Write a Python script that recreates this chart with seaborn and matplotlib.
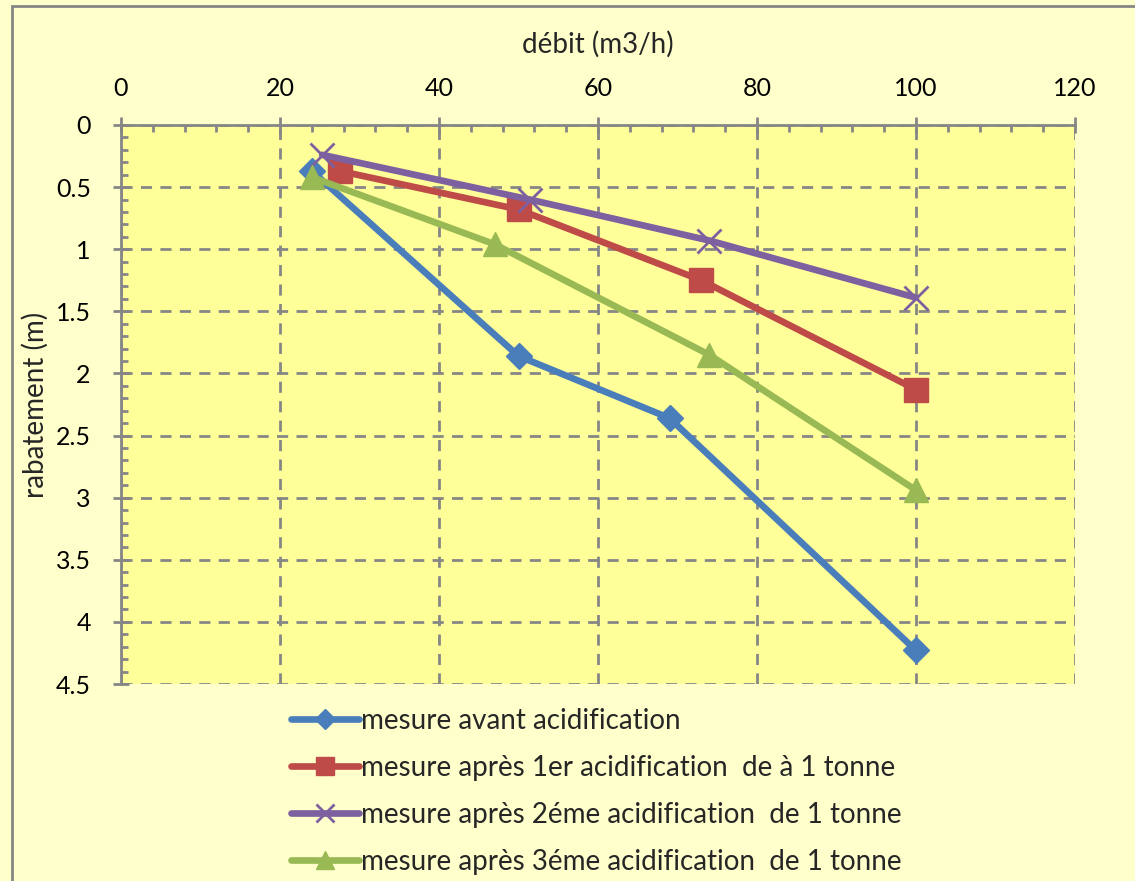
import matplotlib
matplotlib.use("Agg")
import matplotlib.pyplot as plt
import seaborn as sns
import pandas as pd
import numpy as np
from matplotlib.patches import Rectangle
from matplotlib.ticker import MultipleLocator

# ---- data ----
series_names = [
    "mesure avant acidification",
    "mesure après 1er acidification  de à 1 tonne",
    "mesure après 2éme acidification  de 1 tonne",
    "mesure après 3éme acidification  de 1 tonne",
]
x_avant = [24, 50, 69, 100]
y_avant = [0.37, 1.86, 2.36, 4.23]
x_1er = [27.5, 50, 73, 100]
y_1er = [0.37, 0.68, 1.25, 2.13]
x_2eme = [25.3, 51.4, 74, 100]
y_2eme = [0.24, 0.60, 0.93, 1.39]
x_3eme = [24, 47, 74, 100]
y_3eme = [0.42, 0.96, 1.85, 2.94]

x_ticks = [0, 20, 40, 60, 80, 100, 120]
y_ticks = [0, 0.5, 1, 1.5, 2, 2.5, 3, 3.5, 4, 4.5]
y_ticklabels = ["0", "0.5", "1", "1.5", "2", "2.5", "3", "3.5", "4", "4.5"]

colors = ["#4A7EBB", "#BE4B48", "#7D60A0", "#98B954"]
markers = ["D", "s", "x", "^"]
msizes = [13, 17, 17, 17]

sns.set_theme(style="white")
plt.rcParams["font.family"] = ["Lato", "DejaVu Sans"]

frames = []
for name, xs, ys in zip(series_names, [x_avant, x_1er, x_2eme, x_3eme],
                        [y_avant, y_1er, y_2eme, y_3eme]):
    frames.append(pd.DataFrame({"debit": xs, "rabatement": ys, "serie": name}))
df = pd.concat(frames, ignore_index=True)

fig = plt.figure(figsize=(11.35, 8.81), dpi=100)
fig.patch.set_facecolor("#FFFFCC")
ax = fig.add_axes([121/1135, 1-684/881, (1075-121)/1135, (684-125)/881])
ax.set_facecolor("#FFFF99")

for name, c, m, ms in zip(series_names, colors, markers, msizes):
    sub = df[df["serie"] == name]
    sns.lineplot(data=sub, x="debit", y="rabatement", ax=ax, color=c,
                 marker=m, markersize=ms, linewidth=4.8, sort=False,
                 markeredgecolor=c, markeredgewidth=(2 if m == "x" else 1),
                 label=name, legend=False, zorder=3)

ax.set_xlim(0, 120)
ax.set_ylim(4.5, 0)
ax.xaxis.set_minor_locator(MultipleLocator(4))
ax.yaxis.set_minor_locator(MultipleLocator(0.1))
ax.xaxis.tick_top()
ax.xaxis.set_label_position("top")
ax.set_xticks(x_ticks)
ax.set_xticklabels([str(v) for v in x_ticks])
ax.set_yticks(y_ticks)
ax.set_yticklabels(y_ticklabels)

ax.tick_params(axis="both", which="major", direction="inout", length=11.5,
               width=2, color="#868686", labelsize=18, labelcolor="black")
ax.tick_params(axis="x", which="major", pad=12)
ax.tick_params(axis="y", which="major", pad=16)
ax.tick_params(axis="both", which="minor", direction="in", length=5,
               width=2, color="#868686")
ax.tick_params(axis="x", which="both", top=True, bottom=False)
ax.tick_params(axis="y", which="both", left=True, right=False)

ax.grid(True, which="major", color="#868686", linestyle=(0, (4, 3)), linewidth=2)
for s in ["right", "bottom"]:
    ax.spines[s].set_visible(False)
for s in ["top", "left"]:
    ax.spines[s].set_color("#868686")
    ax.spines[s].set_linewidth(2)
ax.set_axisbelow(True)

ax.set_xlabel("débit (m3/h)", fontsize=20, labelpad=18)
ax.set_ylabel("rabatement (m)", fontsize=20, labelpad=5)

handles, labels = ax.get_legend_handles_labels()
fig.legend(handles, labels, loc="upper left", bbox_to_anchor=(280/1135, 1-697/881),
           frameon=False, fontsize=20, handlelength=2.45, handletextpad=0.08,
           labelspacing=0.75, borderaxespad=0, markerscale=0.8)

fig.patches.append(Rectangle((12/1135, -0.1), 1.2, 1.1 - 6/881, transform=fig.transFigure,
                             fill=False, edgecolor="#868686", linewidth=2, zorder=10))

fig.savefig("out.png", dpi=100, facecolor=fig.get_facecolor())
